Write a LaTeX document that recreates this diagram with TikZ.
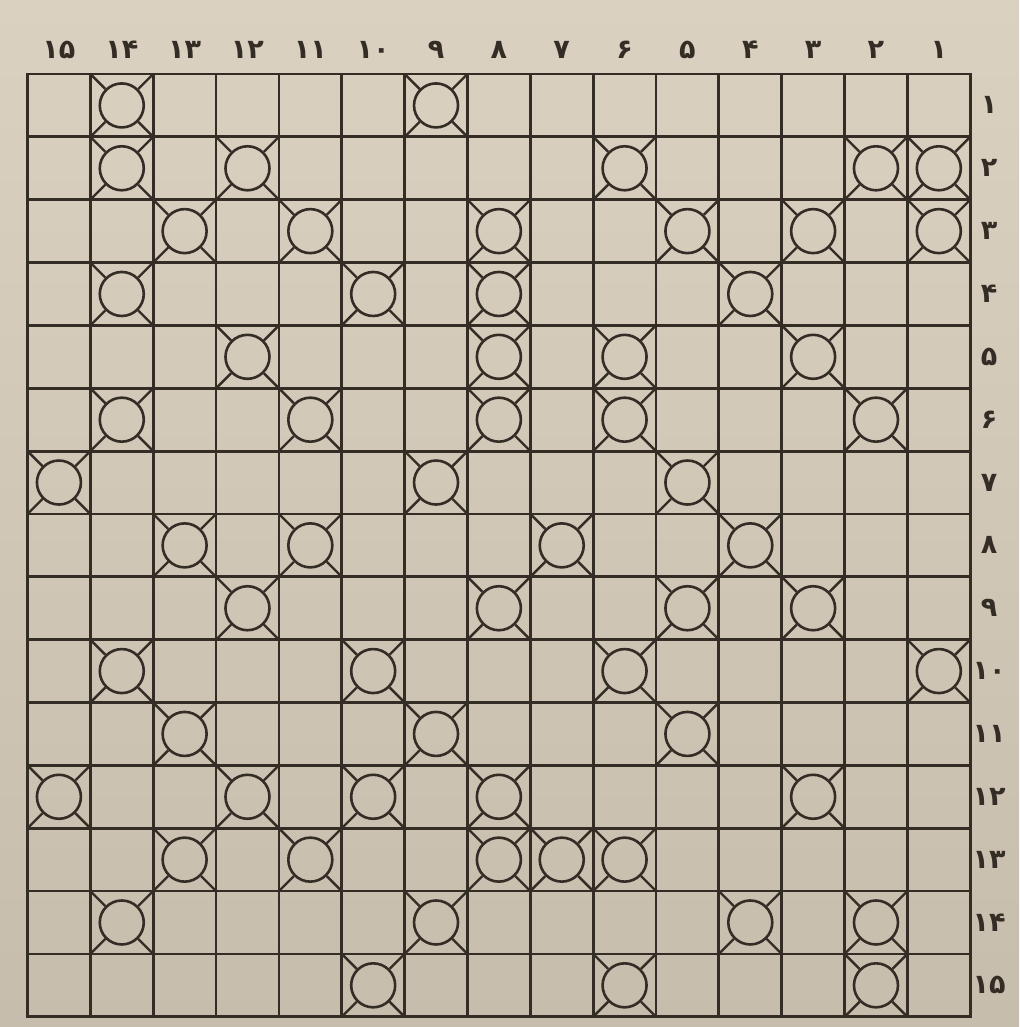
\documentclass[tikz,border=0pt]{standalone}
\usepackage{fontspec}
\newfontfamily\fadigits[Script=Arabic]{DejaVu Sans}
\definecolor{papertop}{RGB}{218,209,193}
\definecolor{paperbot}{RGB}{199,189,172}
\definecolor{ink}{RGB}{52,45,38}
\begin{document}
\begin{tikzpicture}[x=1pt,y=-1pt,
  gridline/.style={draw=ink,line width=2.8pt,line cap=rect},
  piece/.style={circle,draw=ink,line width=2.6pt,minimum size=44pt,inner sep=0pt},
  spoke/.style={draw=ink,line width=2.4pt},
  lab/.style={font=\fadigits\bfseries\fontsize{27}{27}\selectfont,text=ink,inner sep=0pt}]
\useasboundingbox (0,0) rectangle (1019,1027);
\shade[top color=papertop,bottom color=paperbot] (0,0) rectangle (1019,1027);
\def\L{27.5}\def\T{74}\def\C{62.85}
% grid
\foreach \i in {0,...,15}{
  \draw[gridline] (\L+\i*\C,\T) -- (\L+\i*\C,\T+15*\C);
  \draw[gridline] (\L,\T+\i*\C) -- (\L+15*\C,\T+\i*\C);
}
% pieces: row / columns (0 = leftmost)
\foreach \r/\cs in {1/{1,6},2/{1,3,9,13,14},3/{2,4,7,10,12,14},4/{1,5,7,11},
  5/{3,7,9,12},6/{1,4,7,9,13},7/{0,6,10},8/{2,4,8,11},9/{3,7,10,12},
  10/{1,5,9,14},11/{2,6,10},12/{0,3,5,7,12},13/{2,4,7,8,9},14/{1,6,11,13},15/{5,9,13}}{
  \foreach \c in \cs {
    \node[piece] (p-\r-\c) at (\L+\c*\C+0.5*\C,\T+\r*\C-0.5*\C) {};
    \coordinate (nw-\r-\c) at (\L+\c*\C,\T+\r*\C-\C);
    \coordinate (ne-\r-\c) at (\L+\c*\C+\C,\T+\r*\C-\C);
    \coordinate (sw-\r-\c) at (\L+\c*\C,\T+\r*\C);
    \coordinate (se-\r-\c) at (\L+\c*\C+\C,\T+\r*\C);
    \draw[spoke] (nw-\r-\c) -- (p-\r-\c.north west);
    \draw[spoke] (ne-\r-\c) -- (p-\r-\c.north east);
    \draw[spoke] (sw-\r-\c) -- (p-\r-\c.south west);
    \draw[spoke] (se-\r-\c) -- (p-\r-\c.south east);
  }
}
% column labels (top), right to left
\foreach \s [count=\i from 0] in {۱۵,۱۴,۱۳,۱۲,۱۱,۱۰,۹,۸,۷,۶,۵,۴,۳,۲,۱}{
  \node[lab] (top-\i) at (\L+\i*\C+0.5*\C,50) {\s};
}
% row labels (right)
\foreach \s [count=\i] in {۱,۲,۳,۴,۵,۶,۷,۸,۹,۱۰,۱۱,۱۲,۱۳,۱۴,۱۵}{
  \node[lab] (row-\i) at (989,\T+\i*\C-0.5*\C) {\s};
}
\end{tikzpicture}
\end{document}
